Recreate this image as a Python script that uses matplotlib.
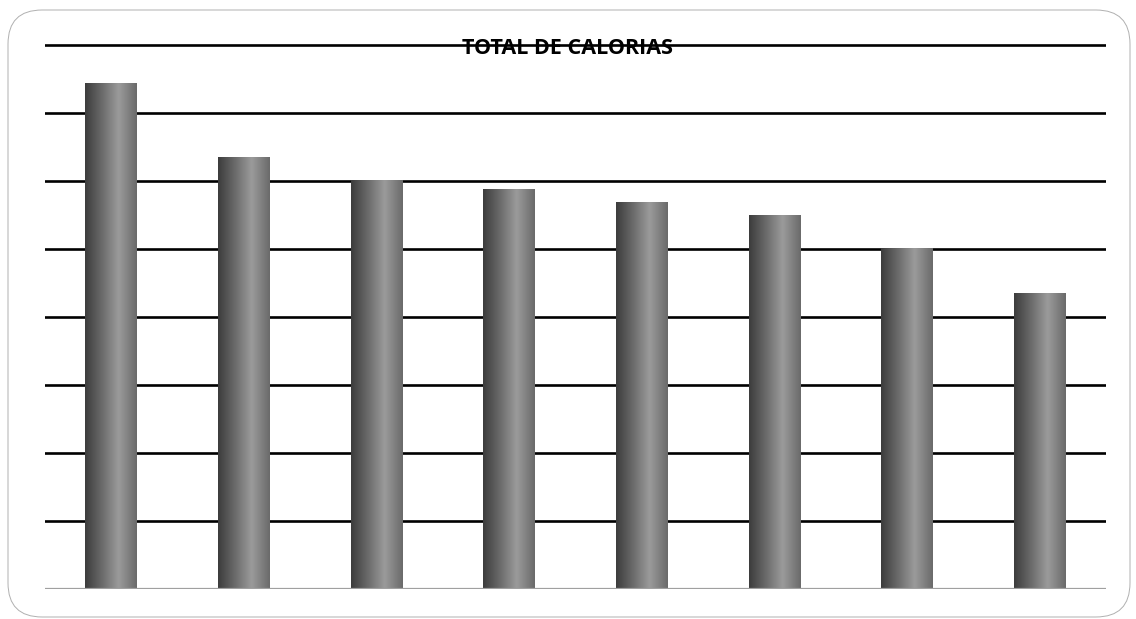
import numpy as np
import matplotlib
matplotlib.use("Agg")
import matplotlib.pyplot as plt
from matplotlib.colors import LinearSegmentedColormap
from matplotlib.patches import FancyBboxPatch

# Data (no category labels are shown on the chart)
categories = ["1", "2", "3", "4", "5", "6", "7", "8"]
calorias = [743, 634, 600, 588, 568, 549, 500, 434]
grid_step = 100
grid_levels = [100, 200, 300, 400, 500, 600, 700, 800]

fig = plt.figure(figsize=(11.36, 6.19), dpi=100)

# rounded outer frame
frame = FancyBboxPatch((8 / 1136, 2 / 619), 1122 / 1136, 607 / 619,
                       boxstyle="round,pad=0,rounding_size=0.03",
                       transform=fig.transFigure, fill=False,
                       edgecolor="#b0b0b0", linewidth=0.7,
                       mutation_aspect=1136 / 619)
fig.patches.append(frame)

ymax = 830
top_px = 589 - ymax / grid_step * 68
ax = fig.add_axes([45 / 1136, 30 / 619, 1061 / 1136, (589 - top_px) / 619])

# horizontal gridlines
for g in grid_levels:
    ax.axhline(g, color="black", linewidth=1.9, zorder=1)
ax.axhline(0, color="#a0a0a0", linewidth=1.6, zorder=3)

# bars with a cylinder-like gray gradient
cmap = LinearSegmentedColormap.from_list(
    "cyl", [(0.0, "#3c3c3c"), (0.35, "#6e6e6e"), (0.65, "#9b9b9b"), (1.0, "#6a6a6a")])
grad = np.linspace(0, 1, 256).reshape(1, -1)
width = 0.39
x = np.arange(len(categories))
bars = ax.bar(x, calorias, width=width, color="none", edgecolor="none", zorder=2)
for b in bars:
    x0 = b.get_x()
    ax.imshow(grad, extent=[x0, x0 + b.get_width(), 0, b.get_height()],
              aspect="auto", cmap=cmap, zorder=2, interpolation="bilinear")

ax.set_xlim(-0.5, len(categories) - 0.5)
ax.set_ylim(0, ymax)
ax.axis("off")

fig.text(0.5, (619 - 48) / 619, "TOTAL DE CALORIAS", ha="center", va="center",
         fontsize=15.5, fontweight="bold", family=["Open Sans", "DejaVu Sans"],
         zorder=5)

fig.savefig("out.png", dpi=100)
